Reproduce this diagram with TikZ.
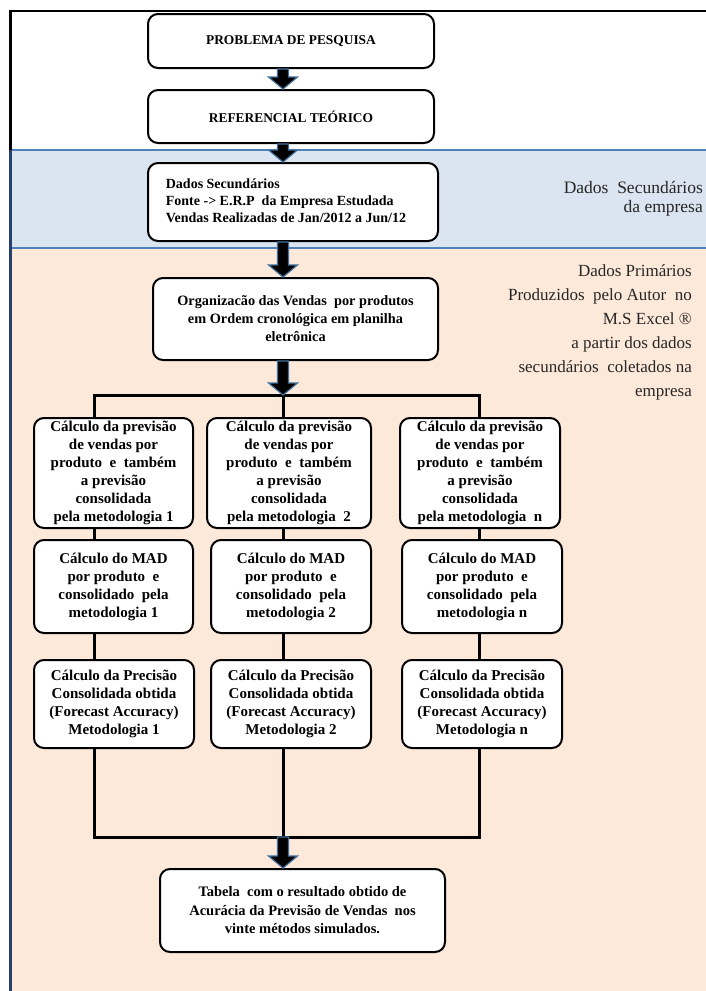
\documentclass[tikz,border=0pt]{standalone}
\usepackage{fontspec}
\setmainfont{Liberation Serif}
\usetikzlibrary{calc}
\definecolor{bandblue}{HTML}{DBE5F1}
\definecolor{bandpeach}{HTML}{FDE9D9}
\definecolor{lineblue}{HTML}{4F81BD}
\definecolor{navyline}{HTML}{24406B}
\definecolor{arrowblue}{HTML}{41719C}
\tikzset{
 box/.style={draw=black, line width=2pt, rounded corners=10pt, fill=white, align=center, inner sep=0pt, font=\fontsize{15}{18}\selectfont\bfseries},
 link/.style={draw=black, line width=3pt},
 barrow/.style={fill=black, draw=arrowblue, line width=1.2pt, line join=miter},
 sidetext/.style={align=right, anchor=east, inner sep=0pt, text=black!85},
}
\newcommand\drawblockarrow[2]{\filldraw[barrow] let \p1=(#1), \p2=(#2) in (\x1-5.5pt,\y1) -- (\x1-5.5pt,\y2+12pt) -- (\x1-14.5pt,\y2+12pt) -- (\x1,\y2) -- (\x1+14.5pt,\y2+12pt) -- (\x1+5.5pt,\y2+12pt) -- (\x1+5.5pt,\y1) -- cycle;}
\begin{document}
\begin{tikzpicture}[x=1pt,y=-1pt]
\useasboundingbox (0,0) rectangle (705,991);
\fill[white] (0,0) rectangle (705,991);
% bands
\fill[bandblue] (10,150) rectangle (706,248);
\fill[bandpeach] (10,248) rectangle (706,992);
\draw[line width=2pt, lineblue] (10,150) -- (706,150) (10,248) -- (706,248);
\draw[line width=2pt, black] (9,11) -- (706,11);
\draw[line width=3pt, black] (10,10) -- (10,150);
\draw[line width=3pt, navyline] (10,150) -- (10,992);
% coordinates
\coordinate (xa) at (94,0);
\coordinate (xb) at (283,0);
\coordinate (xc) at (479,0);
\coordinate (bar) at (283,395);
\coordinate (bot) at (283,837);
% nodes
\node[box, minimum width=286pt, minimum height=54pt, font=\fontsize{13.4}{16}\selectfont\bfseries] (pp) at (291,41) {PROBLEMA DE PESQUISA};
\node[box, minimum width=286pt, minimum height=53pt, font=\fontsize{13.4}{16}\selectfont\bfseries] (rt) at (291,116.5) {REFERENCIAL TEÓRICO};
\node[box, minimum width=290pt, minimum height=78pt, font=\fontsize{14}{16.8}\selectfont\bfseries] (ds) at (293,202) {\begin{tabular}{@{}l@{\hspace{14pt}}}Dados Secundários\\Fonte -> E.R.P\ \ da Empresa Estudada\\Vendas Realizadas de Jan/2012 a Jun/12\end{tabular}};
\node[box, minimum width=285pt, minimum height=82pt, font=\fontsize{14.3}{18}\selectfont\bfseries] (org) at (295.5,319) {Organizacão das Vendas\ \ por produtos\\em Ordem cronológica em planilha\\eletrônica};
\node[box, minimum width=159pt, minimum height=110pt] (r1a) at (113.5,473) {Cálculo da previsão\\de vendas por\\produto\ \ e\ \ também\\a previsão\\consolidada\\pela metodologia 1};
\node[box, minimum width=164pt, minimum height=110pt] (r1b) at (289,473) {Cálculo da previsão\\de vendas por\\produto\ \ e\ \ também\\a previsão\\consolidada\\pela metodologia\ \ 2};
\node[box, minimum width=160pt, minimum height=110pt] (r1c) at (480,473) {Cálculo da previsão\\de vendas por\\produto\ \ e\ \ também\\a previsão\\consolidada\\pela metodologia\ \ n};
\node[box, minimum width=159pt, minimum height=93pt] (r2a) at (113.5,586.5) {Cálculo do MAD\\por produto\ \ e\\consolidado\ \ pela\\metodologia 1};
\node[box, minimum width=160pt, minimum height=93pt] (r2b) at (291,586.5) {Cálculo do MAD\\por produto\ \ e\\consolidado\ \ pela\\metodologia 2};
\node[box, minimum width=160pt, minimum height=93pt] (r2c) at (482,586.5) {Cálculo do MAD\\por produto\ \ e\\consolidado\ \ pela\\metodologia n};
\node[box, minimum width=160pt, minimum height=88pt] (r3a) at (114,704) {Cálculo da Precisão\\Consolidada obtida\\(Forecast Accuracy)\\Metodologia 1};
\node[box, minimum width=160pt, minimum height=88pt] (r3b) at (291,704) {Cálculo da Precisão\\Consolidada obtida\\(Forecast Accuracy)\\Metodologia 2};
\node[box, minimum width=160pt, minimum height=88pt] (r3c) at (482,704) {Cálculo da Precisão\\Consolidada obtida\\(Forecast Accuracy)\\Metodologia n};
\node[box, minimum width=285pt, minimum height=83pt, font=\fontsize{14.5}{18.5}\selectfont\bfseries] (fin) at (302.5,910.5) {Tabela\ \ com o resultado obtido de\\Acurácia da Previsão de Vendas\ \ nos\\vinte métodos simulados.};
% side texts
\node[sidetext, font=\fontsize{17.5}{19}\selectfont] (sd) at (703,199) {Dados\ \ Secundários\\da empresa};
\node[sidetext, font=\fontsize{17}{24}\selectfont] (sp) at (692,332) {Dados Primários\\Produzidos\ \ pelo Autor\ \ no\\M.S Excel ®\\a partir dos dados\\secundários\ \ coletados na\\empresa};
% connectors
\draw[link] (r1a.north -| xa) -- (xa |- bar) -- (xc |- bar) -- (r1c.north -| xc);
\draw[link] (bar) -- (r1b.north -| xb);
\draw[link] (r1a.south -| xa) -- (r2a.north -| xa);
\draw[link] (r1b.south -| xb) -- (r2b.north -| xb);
\draw[link] (r1c.south -| xc) -- (r2c.north -| xc);
\draw[link] (r2a.south -| xa) -- (r3a.north -| xa);
\draw[link] (r2b.south -| xb) -- (r3b.north -| xb);
\draw[link] (r2c.south -| xc) -- (r3c.north -| xc);
\draw[link] (r3a.south -| xa) -- (xa |- bot) -- (xc |- bot) -- (r3c.south -| xc);
\draw[link] (r3b.south -| xb) -- (bot);
% block arrows
\drawblockarrow{pp.south -| xb}{rt.north -| xb}
\drawblockarrow{rt.south -| xb}{ds.north -| xb}
\drawblockarrow{ds.south -| xb}{org.north -| xb}
\drawblockarrow{org.south -| xb}{bar}
\drawblockarrow{bot}{fin.north -| xb}
\end{tikzpicture}
\end{document}
